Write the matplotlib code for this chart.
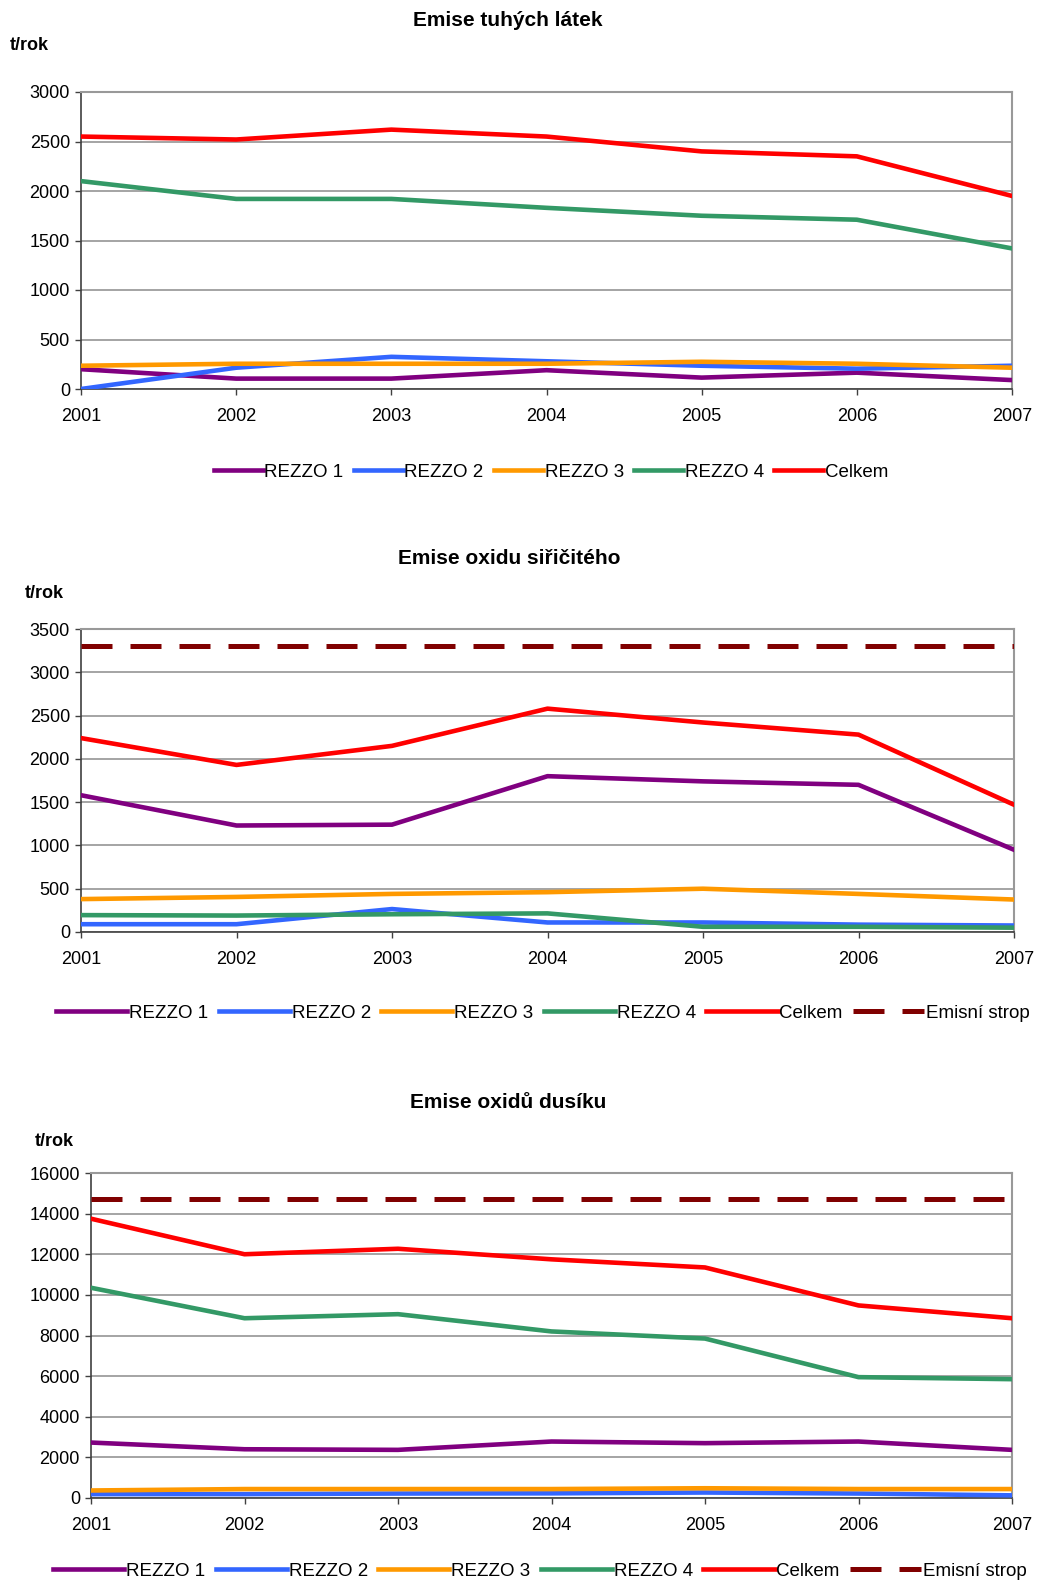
import matplotlib
matplotlib.use("Agg")
import matplotlib.pyplot as plt
from matplotlib.lines import Line2D

plt.rcParams['font.family'] = ['Liberation Sans', 'DejaVu Sans']

years = ['2001', '2002', '2003', '2004', '2005', '2006', '2007']
series_names = ['REZZO 1', 'REZZO 2', 'REZZO 3', 'REZZO 4', 'Celkem']
series_colors = ['#800080', '#3366FF', '#FF9900', '#339966', '#FF0000']
cap_color = '#800000'

# Emise tuhých látek
tzl_rezzo1 = [200, 105, 105, 190, 115, 165, 90]
tzl_rezzo2 = [0, 215, 325, 280, 235, 205, 235]
tzl_rezzo3 = [235, 255, 255, 255, 275, 255, 215]
tzl_rezzo4 = [2100, 1920, 1920, 1830, 1750, 1710, 1420]
tzl_celkem = [2550, 2520, 2620, 2550, 2400, 2350, 1950]

# Emise oxidu siřičitého
so2_rezzo1 = [1580, 1230, 1240, 1800, 1740, 1700, 950]
so2_rezzo2 = [90, 90, 265, 110, 110, 85, 75]
so2_rezzo3 = [380, 405, 440, 460, 500, 440, 375]
so2_rezzo4 = [195, 190, 205, 215, 60, 60, 50]
so2_celkem = [2240, 1930, 2150, 2580, 2420, 2280, 1470]
so2_strop = 3300

# Emise oxidů dusíku
nox_rezzo1 = [2730, 2400, 2370, 2780, 2700, 2780, 2370]
nox_rezzo2 = [190, 190, 220, 230, 270, 220, 130]
nox_rezzo3 = [370, 440, 440, 440, 480, 440, 440]
nox_rezzo4 = [10350, 8850, 9050, 8200, 7850, 5950, 5850]
nox_celkem = [13750, 12000, 12270, 11750, 11350, 9480, 8850]
nox_strop = 14700

W, H = 1055, 1582
fig = plt.figure(figsize=(W / 100, H / 100), dpi=100)


def px_axes(left, top, right, bottom):
    return fig.add_axes([left / W, 1 - bottom / H, (right - left) / W, (bottom - top) / H])


def draw_panel(ax, data, ymax, ystep, cap=None):
    x = range(len(years))
    for vals, color in zip(data, series_colors):
        ax.plot(x, vals, color=color, lw=3.3, solid_joinstyle='round', zorder=3)
    if cap is not None:
        ax.axhline(cap, color=cap_color, lw=3.6, dashes=(6.2, 3.6), zorder=3)
    ax.set_xlim(0, len(years) - 1)
    ax.set_ylim(0, ymax)
    ax.set_xticks(list(x))
    ax.set_xticklabels(years)
    ax.set_yticks(range(0, ymax + 1, ystep))
    ax.yaxis.grid(True, color='#8c8c8c', lw=1.1)
    ax.set_axisbelow(True)
    ax.tick_params(axis='both', direction='out', length=4, width=1, color='#404040',
                   labelsize=13, colors='black')
    ax.tick_params(axis='x', pad=10)
    ax.tick_params(axis='y', pad=4)
    ax.spines['left'].set_color('#404040')
    ax.spines['bottom'].set_color('#404040')
    ax.spines['left'].set_linewidth(1.2)
    ax.spines['bottom'].set_linewidth(1.2)
    for s in ('top', 'right'):
        ax.spines[s].set_color('#999999')
        ax.spines[s].set_linewidth(1.5)


def draw_legend(cx, cy, with_cap, handle_len):
    handles = [Line2D([], [], color=c, lw=3.3) for c in series_colors]
    labels = list(series_names)
    if with_cap:
        handles.append(Line2D([], [], color=cap_color, lw=3.6, dashes=(6.2, 3.6)))
        labels.append('Emisní strop')
    fig.legend(handles, labels, loc='center', bbox_to_anchor=(cx / W, 1 - cy / H),
               ncol=len(labels), frameon=False, fontsize=13.5, handlelength=handle_len,
               handletextpad=0.1, columnspacing=0.55, borderpad=0)


def titles(text, tx, ty, ux, uy):
    fig.text(tx / W, 1 - ty / H, text, ha='center', va='center', fontsize=15, fontweight='bold')
    fig.text(ux / W, 1 - uy / H, 't/rok', ha='left', va='center', fontsize=13, fontweight='bold')


ax1 = px_axes(81, 92, 1012, 389)
draw_panel(ax1, [tzl_rezzo1, tzl_rezzo2, tzl_rezzo3, tzl_rezzo4, tzl_celkem], 3000, 500)
titles('Emise tuhých látek', 508, 21, 10, 45)
draw_legend(551, 472, False, 2.6)

ax2 = px_axes(81, 629, 1014, 932)
draw_panel(ax2, [so2_rezzo1, so2_rezzo2, so2_rezzo3, so2_rezzo4, so2_celkem], 3500, 500, cap=so2_strop)
titles('Emise oxidu siřičitého', 509, 559, 25, 593)
draw_legend(543, 1013, True, 3.8)

ax3 = px_axes(91, 1173, 1012, 1498)
draw_panel(ax3, [nox_rezzo1, nox_rezzo2, nox_rezzo3, nox_rezzo4, nox_celkem], 16000, 2000, cap=nox_strop)
titles('Emise oxidů dusíku', 508, 1102, 35, 1141)
draw_legend(540, 1571, True, 3.8)

fig.savefig('out.png', dpi=100)
